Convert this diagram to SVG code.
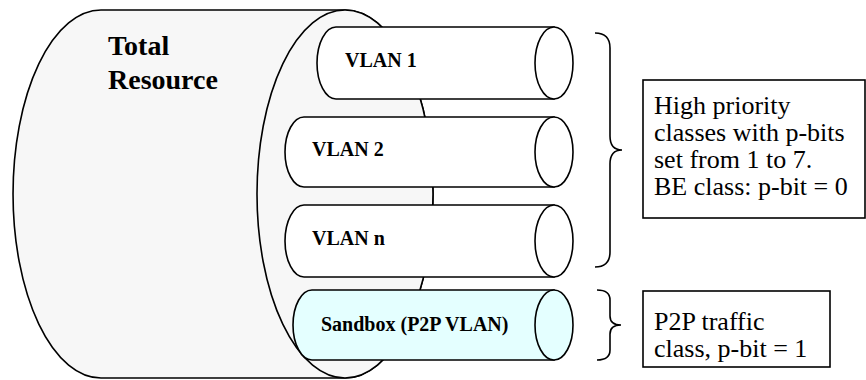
<svg xmlns="http://www.w3.org/2000/svg" width="866" height="380" viewBox="0 0 866 380">
  <style>
    .ln { stroke: #000; stroke-width: 1.6; }
    .pool { fill: #f7f7f7; }
    .vlan { fill: #ffffff; }
    .sand { fill: #e4ffff; }
    .lbl { font-weight: bold; font-size: 20px; }
    .big { font-weight: bold; font-size: 28px; }
    .note { font-size: 26px; }
    .brace { fill: none; stroke: #000; stroke-width: 1.6; }
    .box { fill: #fff; stroke: #000; stroke-width: 1.6; }
  </style>

  <rect width="866" height="380" fill="#fff"/>

  <g font-family="'Liberation Serif', 'Times New Roman', Times, 'Nimbus Roman', 'DejaVu Serif', serif" fill="#000">
  <!-- Total resource: large horizontal cylinder -->
  <g id="total-resource">
    <path class="pool ln" d="M101,10 L345,10 A88,184 0 0 1 345,378 L101,378 A88,184 0 0 1 101,10 Z"/>
    <ellipse class="pool ln" cx="345" cy="194" rx="88" ry="184"/>
    <text class="big" x="108" y="55">Total</text>
    <text class="big" x="108" y="89">Resource</text>
  </g>

  <!-- VLAN pipes -->
  <g id="vlan-1">
    <path class="vlan ln" d="M336,27 L554,27 L554,99 L336,99 A19,36 0 0 1 336,27 Z"/>
    <ellipse class="vlan ln" cx="554" cy="63" rx="19" ry="36"/>
    <text class="lbl" x="345" y="67">VLAN 1</text>
  </g>

  <g id="vlan-2">
    <path class="vlan ln" d="M304,117 L554,117 L554,187 L304,187 A19,35 0 0 1 304,117 Z"/>
    <ellipse class="vlan ln" cx="554" cy="152" rx="19" ry="35"/>
    <text class="lbl" x="312" y="156">VLAN 2</text>
  </g>

  <g id="vlan-n">
    <path class="vlan ln" d="M304,205 L554,205 L554,277 L304,277 A19,36 0 0 1 304,205 Z"/>
    <ellipse class="vlan ln" cx="554" cy="241" rx="19" ry="36"/>
    <text class="lbl" x="312" y="245">VLAN n</text>
  </g>

  <g id="sandbox">
    <path class="sand ln" d="M312,290 L554,290 L554,360 L312,360 A19,35 0 0 1 312,290 Z"/>
    <ellipse class="sand ln" cx="554" cy="325" rx="19" ry="35"/>
    <text class="lbl" x="321" y="331" font-size="19.5">Sandbox (P2P VLAN)</text>
  </g>

  <!-- Braces grouping the pipes -->
  <g id="connectors">
    <path class="brace" d="M595,33 Q610,33 610,48 L610,136 Q610,150 622,150 Q610,150 610,164 L610,252 Q610,267 595,267"/>
    <path class="brace" d="M597,290 Q610,290 610,300 L610,316 Q610,325 621,325 Q610,325 610,334 L610,350 Q610,360 597,360"/>
  </g>

  <!-- Annotation boxes -->
  <g id="note-high-priority">
    <rect class="box" x="643" y="80" width="222" height="138"/>
    <text class="note" x="654" y="114">High priority</text>
    <text class="note" x="654" y="141">classes with p-bits</text>
    <text class="note" x="654" y="168">set from 1 to 7.</text>
    <text class="note" x="654" y="195">BE class: p-bit = 0</text>
  </g>

  <g id="note-p2p">
    <rect class="box" x="643" y="291" width="187" height="76"/>
    <text class="note" x="654" y="330">P2P traffic</text>
    <text class="note" x="654" y="357">class, p-bit = 1</text>
  </g>
  </g>
</svg>
